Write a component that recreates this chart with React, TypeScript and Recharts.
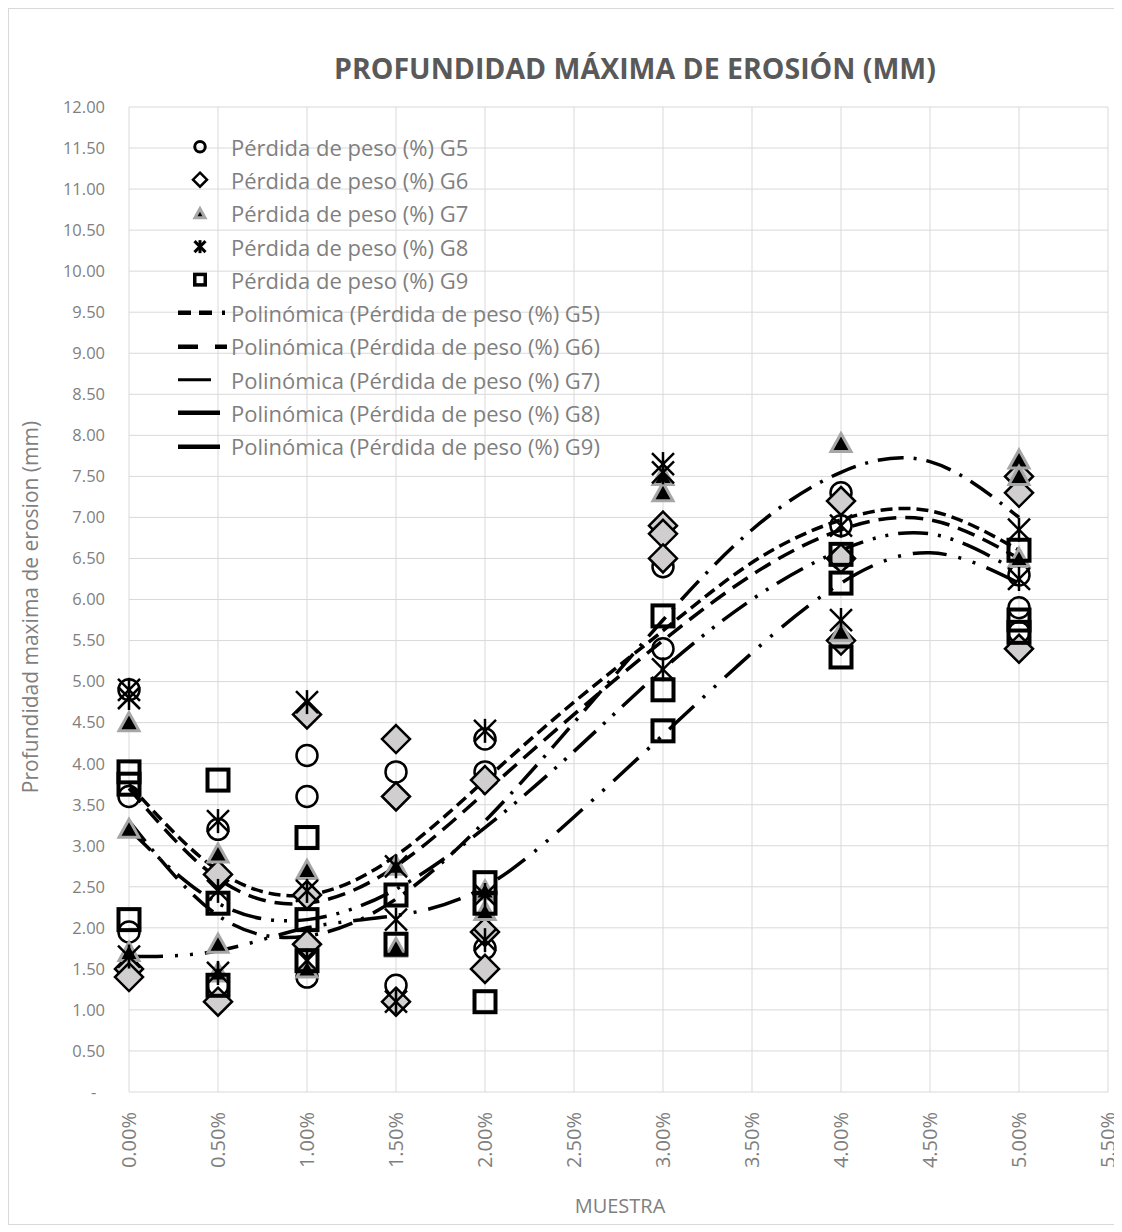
import React from 'react';
import { ComposedChart, Scatter, Line, XAxis, YAxis, CartesianGrid, Legend } from 'recharts';

const FONT = "'Open Sans', sans-serif";

// muestra (%) donde hay mediciones
const xCategories = [0, 0.5, 1, 1.5, 2, 3, 4, 5];

// valores por muestra, cada lista son las repeticiones
const g5Values = [[4.9, 3.6, 1.95], [3.2, 1.3], [4.1, 3.6, 1.4], [3.9, 1.3], [4.3, 3.9, 1.75], [6.4, 5.4], [7.3, 6.9, 6.5], [6.3, 5.9, 5.6]];
const g6Values = [[1.5, 1.4], [2.65, 1.1], [4.6, 2.4, 1.8], [4.3, 3.6, 1.1], [3.8, 1.95, 1.5], [6.9, 6.8, 6.5], [7.2, 6.5, 5.5], [7.5, 7.3, 5.4]];
const g7Values = [[4.5, 3.2, 1.7], [2.9, 1.8, 1.45], [2.7, 1.5], [2.75, 1.75], [2.45, 2.2], [7.5, 7.3], [7.9, 5.6], [7.7, 7.5, 6.5]];
const g8Values = [[4.9, 4.8, 1.65], [3.3, 2.45, 1.45], [4.75, 2.45, 1.6], [2.75, 2.1, 1.1], [4.4, 2.4, 1.85], [7.65, 7.55, 5.15], [6.9, 5.75], [6.85, 6.25]];
const g9Values = [[3.9, 3.75, 2.1], [3.8, 2.3, 1.3], [3.1, 2.1, 1.6], [2.4, 1.8], [2.55, 2.3, 1.1], [5.8, 4.9, 4.4], [6.55, 6.2, 5.3], [6.6, 5.75, 5.6]];

// lineas de tendencia
const trendX = [0, 0.5, 1, 1.5, 2, 2.5, 3, 3.5, 4, 4.5, 5];
const trendG5 = [3.75, 2.7, 2.4, 2.88, 3.8, 4.75, 5.62, 6.45, 6.97, 7.08, 6.6];
const trendG6 = [3.7, 2.6, 2.3, 2.75, 3.65, 4.6, 5.5, 6.3, 6.85, 6.97, 6.5];
const trendG7 = [3.2, 2.3, 2.1, 2.47, 3.22, 4.15, 5.15, 6.0, 6.6, 6.8, 6.33];
const trendG8 = [3.3, 2.15, 1.9, 2.35, 3.3, 4.5, 5.75, 6.85, 7.55, 7.68, 7.0];
const trendG9 = [1.65, 1.72, 2.0, 2.15, 2.5, 3.35, 4.35, 5.35, 6.2, 6.57, 6.2];

const xTicks = [0, 0.5, 1, 1.5, 2, 2.5, 3, 3.5, 4, 4.5, 5, 5.5];
const yTicks = [0, 0.5, 1, 1.5, 2, 2.5, 3, 3.5, 4, 4.5, 5, 5.5, 6, 6.5, 7, 7.5, 8, 8.5, 9, 9.5, 10, 10.5, 11, 11.5, 12];

const seriesNames = ['G5', 'G6', 'G7', 'G8', 'G9'];

const toPoints = (vals: number[][]) => vals.flatMap((list, i) => list.map(y => ({ x: xCategories[i], y })));
const toTrend = (vals: number[]) => vals.map((y, i) => ({ x: trendX[i], y }));

// marcadores
const CircleMark = ({ cx, cy, s = 1 }: any) => (
  <circle cx={cx} cy={cy} r={10.5 * s} fill="none" stroke="#000" strokeWidth={s < 1 ? 3 : 2.5} />
);
const DiamondMark = ({ cx, cy, s = 1 }: any) => {
  const h = 14 * s;
  return <path d={`M${cx},${cy - h}L${cx + h},${cy}L${cx},${cy + h}L${cx - h},${cy}Z`} fill={s < 1 ? '#fff' : '#d0cece'} stroke="#000" strokeWidth={2.5} />;
};
const TriangleMark = ({ cx, cy, s = 1 }: any) => (
  <path d={`M${cx},${cy - 10 * s}L${cx + 10 * s},${cy + 8 * s}L${cx - 10 * s},${cy + 8 * s}Z`} fill="#000" stroke="#a6a6a6" strokeWidth={3} />
);
const StarMark = ({ cx, cy, s = 1 }: any) => {
  const d = 11 * s;
  return (
    <g stroke="#000" strokeWidth={s < 1 ? 3 : 2.5}>
      <line x1={cx - d} y1={cy - d} x2={cx + d} y2={cy + d} />
      <line x1={cx + d} y1={cy - d} x2={cx - d} y2={cy + d} />
      <line x1={cx} y1={cy - d - 1} x2={cx} y2={cy + d + 1} />
    </g>
  );
};
const SquareMark = ({ cx, cy, s = 1 }: any) => (
  <rect x={cx - 10.5 * s} y={cy - 10.5 * s} width={21 * s} height={21 * s} fill="none" stroke="#000" strokeWidth={s < 1 ? 3.5 : 4} />
);

const markers = [CircleMark, DiamondMark, TriangleMark, StarMark, SquareMark];
const scatterData = [g5Values, g6Values, g7Values, g8Values, g9Values].map(toPoints);
const trendData = [trendG5, trendG6, trendG7, trendG8, trendG9].map(toTrend);
const trendDash = ['12 6', '18 9', '30 10 3 10 3 10', '26 10 3 10', '34 12 3 12 3 12'];

// muestras de linea en la leyenda
const legendLines = [
  { dash: '13 8 13 10 3 20', w: 4.5, len: 50 },
  { dash: '20 17 12 20', w: 4.5, len: 50 },
  { dash: '', w: 3, len: 33 },
  { dash: '', w: 4.5, len: 42 },
  { dash: '', w: 4.5, len: 42 },
];

const XTick = ({ x, y, payload }: any) => {
  const ty = y + 12;
  return (
    <text x={x} y={ty} transform={`rotate(-90, ${x}, ${ty})`} textAnchor="end" dy="0.36em" fill="#7f7f7f" fontSize={20} fontFamily={FONT}>
      {`${payload.value.toFixed(2)}%`}
    </text>
  );
};

const renderLegend = () => {
  const rowH = 33.3;
  const text = { color: '#7f7f7f', fontSize: 22, fontFamily: FONT, whiteSpace: 'nowrap' as const };
  return (
    <div>
      {seriesNames.map((name, i) => {
        const M = markers[i];
        return (
          <div key={name} style={{ display: 'flex', alignItems: 'center', height: rowH }}>
            <svg width={56} height={rowH}><M cx={25} cy={rowH / 2} s={0.5} /></svg>
            <span style={text}>Pérdida de peso (%) {name}</span>
          </div>
        );
      })}
      {seriesNames.map((name, i) => {
        const l = legendLines[i];
        return (
          <div key={`t-${name}`} style={{ display: 'flex', alignItems: 'center', height: rowH }}>
            <svg width={56} height={rowH}>
              <line x1={3} y1={rowH / 2} x2={3 + l.len} y2={rowH / 2} stroke="#000" strokeWidth={l.w} strokeDasharray={l.dash || undefined} />
            </svg>
            <span style={text}>Polinómica (Pérdida de peso (%) {name})</span>
          </div>
        );
      })}
    </div>
  );
};

export default function App() {
  return (
    <div style={{ position: 'relative', width: 1114, height: 1217, border: '1px solid #d9d9d9', boxSizing: 'border-box', background: '#fff' }}>
      <div style={{ position: 'absolute', left: 126, width: 1000, top: 40, textAlign: 'center', fontFamily: FONT, fontWeight: 700, fontSize: 28.5, color: '#595959', whiteSpace: 'nowrap' }}>
        PROFUNDIDAD MÁXIMA DE EROSIÓN (MM)
      </div>
      <ComposedChart width={1112} height={1215} margin={{ top: 98, right: 13, bottom: 72, left: 0 }}>
        <CartesianGrid stroke="#d9d9d9" strokeWidth={1} />
        <XAxis
          type="number"
          dataKey="x"
          domain={[0, 5.5]}
          ticks={xTicks}
          interval={0}
          height={60}
          axisLine={false}
          tickLine={false}
          tick={<XTick />}
        />
        <YAxis
          type="number"
          dataKey="y"
          domain={[0, 12]}
          ticks={yTicks}
          interval={0}
          width={120}
          axisLine={false}
          tickLine={false}
          tickMargin={18}
          tick={{ fill: '#7f7f7f', fontSize: 16.5, fontFamily: FONT }}
          tickFormatter={(v: number) => (v === 0 ? '-\u00a0\u00a0' : v.toFixed(2))}
        />
        {scatterData.map((pts, i) => {
          const M = markers[i];
          return (
            <Scatter
              key={`s-${i}`}
              name={`Pérdida de peso (%) ${seriesNames[i]}`}
              data={pts}
              dataKey="y"
              isAnimationActive={false}
              shape={(p: any) => <M cx={p.cx} cy={p.cy} />}
            />
          );
        })}
        {trendData.map((pts, i) => (
          <Line
            key={`l-${i}`}
            name={`Polinómica (Pérdida de peso (%) ${seriesNames[i]})`}
            data={pts}
            dataKey="y"
            type="natural"
            stroke="#000"
            strokeWidth={3.5}
            strokeDasharray={trendDash[i]}
            dot={false}
            activeDot={false}
            isAnimationActive={false}
          />
        ))}
        <Legend
          layout="vertical"
          align="center"
          verticalAlign="middle"
          content={renderLegend}
          wrapperStyle={{ top: 121, left: 166, width: 'auto', height: 'auto' }}
        />
      </ComposedChart>
      <div style={{ position: 'absolute', left: 21, top: 598, transform: 'translate(-50%, -50%) rotate(-90deg)', fontFamily: FONT, fontSize: 21, color: '#7f7f7f', whiteSpace: 'nowrap' }}>
        Profundidad maxima de erosion (mm)
      </div>
      <div style={{ position: 'absolute', left: 611, top: 1196, transform: 'translate(-50%, -50%)', fontFamily: FONT, fontSize: 20, color: '#7f7f7f', whiteSpace: 'nowrap' }}>
        MUESTRA
      </div>
    </div>
  );
}
